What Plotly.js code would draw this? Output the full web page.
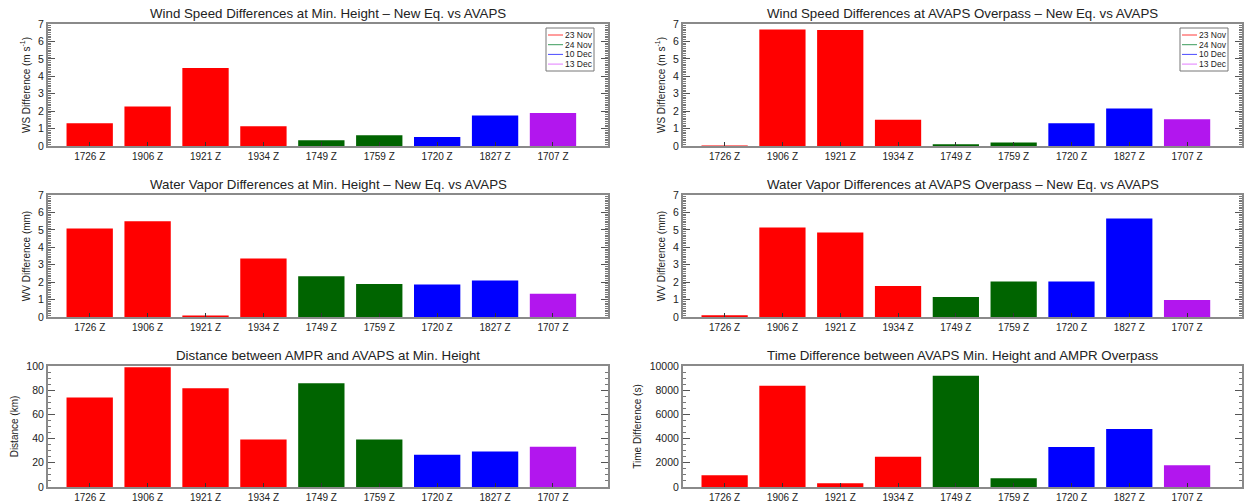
<!DOCTYPE html>
<html>
<head>
<meta charset="utf-8">
<script src="https://cdn.plot.ly/plotly-3.0.1.min.js"></script>
<style>html,body{margin:0;padding:0;background:#fff;}#chart{width:1250px;height:502px;}</style>
</head>
<body>
<div id="chart"></div>
<script>
// ---- data ----
const categories = ['1726 Z','1906 Z','1921 Z','1934 Z','1749 Z','1759 Z','1720 Z','1827 Z','1707 Z'];
const barDates = ['23 Nov','23 Nov','23 Nov','23 Nov','24 Nov','24 Nov','10 Dec','10 Dec','13 Dec'];
const legendDates = ['23 Nov','24 Nov','10 Dec','13 Dec'];
const wsMinHeight = [1.30, 2.27, 4.47, 1.13, 0.33, 0.62, 0.52, 1.75, 1.90];
const wsOverpass  = [0.03, 6.68, 6.66, 1.51, 0.10, 0.20, 1.30, 2.15, 1.53];
const wvMinHeight = [5.08, 5.50, 0.08, 3.35, 2.34, 1.90, 1.86, 2.09, 1.34];
const wvOverpass  = [0.10, 5.13, 4.85, 1.78, 1.15, 2.03, 2.03, 5.65, 0.98];
const distanceKm  = [74, 99, 81.7, 39.2, 85.8, 39.2, 26.7, 29.4, 33.3];
const timeDiffSec = [970, 8360, 300, 2500, 9190, 720, 3300, 4800, 1800];

// ---- styles ----
const barColors = {'23 Nov':'#ff0000','24 Nov':'#006400','10 Dec':'#0000ff','13 Dec':'#b216ee'};
const legendColors = {'23 Nov':'#ff3b3b','24 Nov':'#3c9c5c','10 Dec':'#4a4aff','13 Dec':'#e27cff'};
const FONT = 'Liberation Sans, Arial, sans-serif';
const W = 1250, H = 502;

const panels = [
  {y: wsMinHeight, title: 'Wind Speed Differences at Min. Height – New Eq. vs AVAPS', ytitle: 'WS Difference (m s<sup>-1</sup>)', range:[0,7], dtick:1, minor:0.1, col:0, row:0, legend:true},
  {y: wsOverpass,  title: 'Wind Speed Differences at AVAPS Overpass – New Eq. vs AVAPS', ytitle: 'WS Difference (m s<sup>-1</sup>)', range:[0,7], dtick:1, minor:0.1, col:1, row:0, legend:true},
  {y: wvMinHeight, title: 'Water Vapor Differences at Min. Height – New Eq. vs AVAPS', ytitle: 'WV Difference (mm)', range:[0,7], dtick:1, minor:0.1, col:0, row:1},
  {y: wvOverpass,  title: 'Water Vapor Differences at AVAPS Overpass – New Eq. vs AVAPS', ytitle: 'WV Difference (mm)', range:[0,7], dtick:1, minor:0.1, col:1, row:1},
  {y: distanceKm,  title: 'Distance between AMPR and AVAPS at Min. Height', ytitle: 'Distance (km)', range:[0,100], dtick:20, minor:5, col:0, row:2},
  {y: timeDiffSec, title: 'Time Difference between AVAPS Min. Height and AMPR Overpass', ytitle: 'Time Difference (s)', range:[0,10000], dtick:2000, minor:500, col:1, row:2}
];
const colPx = [[48, 608], [683, 1242]];
const rowPx = [[24, 146], [195, 317], [366, 487]];

const xIdx = categories.map((c, i) => i);
const traces = [];
const layout = {
  width: W, height: H,
  margin: {l:0, r:0, t:0, b:0},
  paper_bgcolor: '#fff', plot_bgcolor: '#fff',
  showlegend: false,
  font: {family: FONT, color: '#222', size: 10},
  annotations: [], shapes: []
};

panels.forEach((p, k) => {
  const n = k + 1;
  const xa = 'xaxis' + (n === 1 ? '' : n), ya = 'yaxis' + (n === 1 ? '' : n);
  const xr = 'x' + (n === 1 ? '' : n), yr = 'y' + (n === 1 ? '' : n);
  const [x0, x1] = colPx[p.col], [y0, y1] = rowPx[p.row];
  traces.push({
    type: 'bar', x: xIdx, y: p.y, xaxis: xr, yaxis: yr,
    width: 0.8,
    marker: {color: barDates.map(d => barColors[d]), line: {width: 0}},
    hoverinfo: 'skip'
  });
  layout[xa] = {
    domain: [x0 / W, x1 / W], anchor: yr,
    range: [-0.72, 8.95], tickmode: 'array', tickvals: xIdx, ticktext: categories,
    ticks: 'inside', ticklen: 4, tickcolor: '#333', tickwidth: 1,
    showline: true, linecolor: '#8a8a8a', linewidth: 2, mirror: true,
    showgrid: false, zeroline: false, fixedrange: true,
    tickfont: {family: FONT, size: 10, color: '#222'}
  };
  layout[ya] = {
    domain: [1 - y1 / H, 1 - y0 / H], anchor: xr,
    range: p.range, dtick: p.dtick, tick0: 0, tickformat: 'd',
    ticks: 'inside', ticklen: 7, tickcolor: '#555', tickwidth: 1,
    minor: {dtick: p.minor, ticks: 'inside', ticklen: 3, tickcolor: '#777', tickwidth: 1, showgrid: false},
    showline: true, linecolor: '#8a8a8a', linewidth: 2, mirror: 'allticks',
    showgrid: false, zeroline: false, fixedrange: true,
    tickfont: {family: FONT, size: 10.5, color: '#222'},
    title: {text: p.ytitle, font: {family: FONT, size: 10, color: '#222'}, standoff: 6}
  };
  layout.annotations.push({
    text: p.title, xref: xr + ' domain', yref: yr + ' domain', x: 0.5, y: 1,
    xanchor: 'center', yanchor: 'bottom', yshift: 1, showarrow: false,
    font: {family: FONT, size: 13.3, color: '#222'}
  });
  if (p.legend) {
    const pw = x1 - x0, ph = y1 - y0;
    const bx0 = pw - 62, bx1 = pw - 14, byTop = 4, byBot = 47;
    const fx = v => v / pw, fy = v => 1 - v / ph;
    layout.shapes.push({type: 'rect', xref: xr + ' domain', yref: yr + ' domain',
      x0: fx(bx0), x1: fx(bx1), y0: fy(byBot), y1: fy(byTop),
      line: {color: '#777', width: 1}, fillcolor: '#fff'});
    legendDates.forEach((d, i) => {
      const yy = 11 + i * 9.7;
      layout.shapes.push({type: 'line', xref: xr + ' domain', yref: yr + ' domain',
        x0: fx(bx0 + 2), x1: fx(bx0 + 17), y0: fy(yy), y1: fy(yy),
        line: {color: legendColors[d], width: 1}});
      layout.annotations.push({text: d, xref: xr + ' domain', yref: yr + ' domain',
        x: fx(bx0 + 17), y: fy(yy), xanchor: 'left', yanchor: 'middle', showarrow: false,
        font: {family: FONT, size: 8.5, color: '#222'}});
    });
  }
});

Plotly.newPlot('chart', traces, layout, {staticPlot: true, displayModeBar: false});
</script>
</body>
</html>
